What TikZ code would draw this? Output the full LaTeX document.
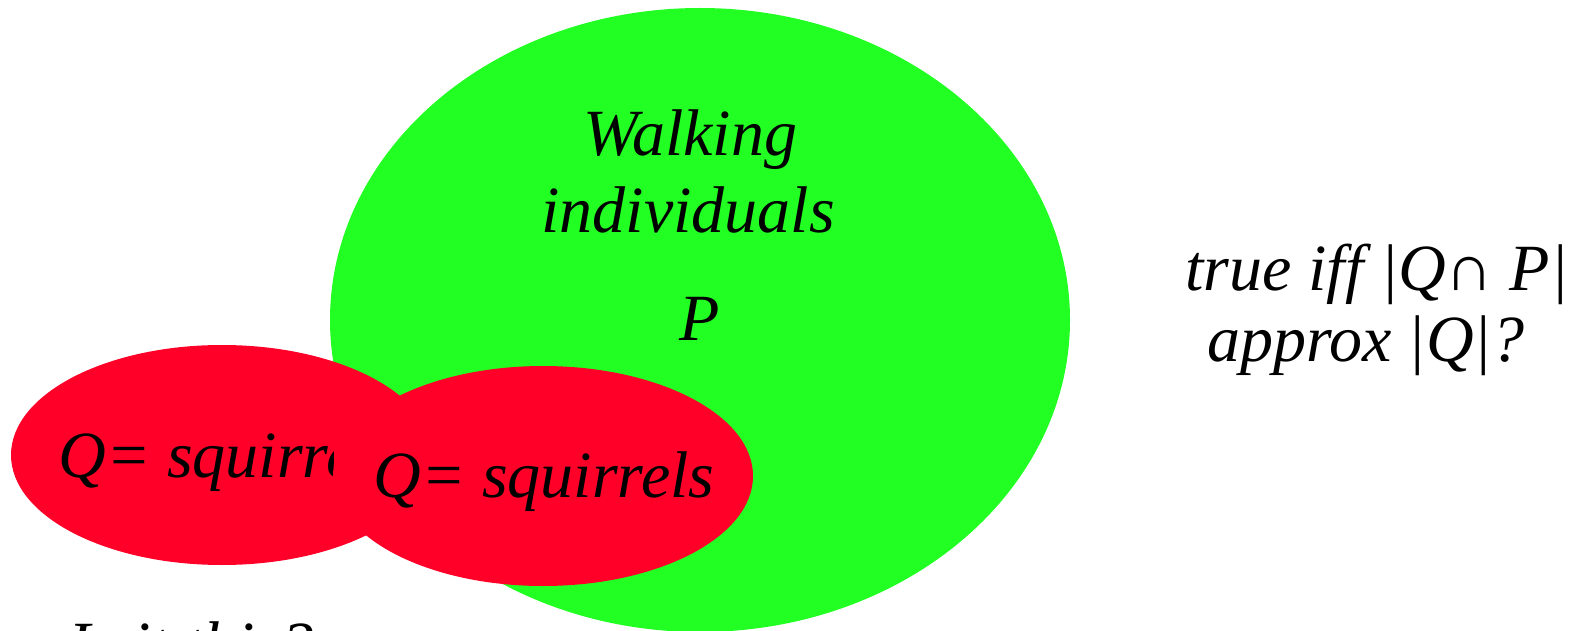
\documentclass[tikz,border=0pt]{standalone}
\usepackage{fontspec}
\setmainfont{Liberation Serif}
\definecolor{setgreen}{RGB}{34,255,34}
\definecolor{setred}{RGB}{255,0,40}
\begin{document}
\begin{tikzpicture}[x=1pt,y=-1pt,
  lbl/.style={font=\fontsize{66}{76}\selectfont\itshape, inner sep=0pt, anchor=base, align=center}]
\useasboundingbox (0,0) rectangle (1574,631);
\clip (0,0) rectangle (1574,631);
\fill[setgreen] (700,320) ellipse [x radius=370, y radius=312];
\fill[setred] (222,455) ellipse [x radius=211, y radius=110];
\begin{scope}
\clip (0,300) rectangle (333,600);
\node[lbl] (q1) at (229,477) {Q= squirrels};
\end{scope}
\fill[setred] (543,476) ellipse [x radius=210, y radius=110];
\node[lbl] (q2) at (544,497) {Q= squirrels};
\node[lbl] (walk) at (690,156) {Walking};
\node[lbl] (indiv) at (688,233) {individuals};
\node[lbl] (p) at (700,340) {P};
\node[lbl] (true) at (1377,290) {true iff |Q∩ P|};
\node[lbl] (approx) at (1366,361) {approx |Q|?};
\node[lbl, anchor=base west] (isit) at (68,667) {Is it this?};
\end{tikzpicture}
\end{document}
